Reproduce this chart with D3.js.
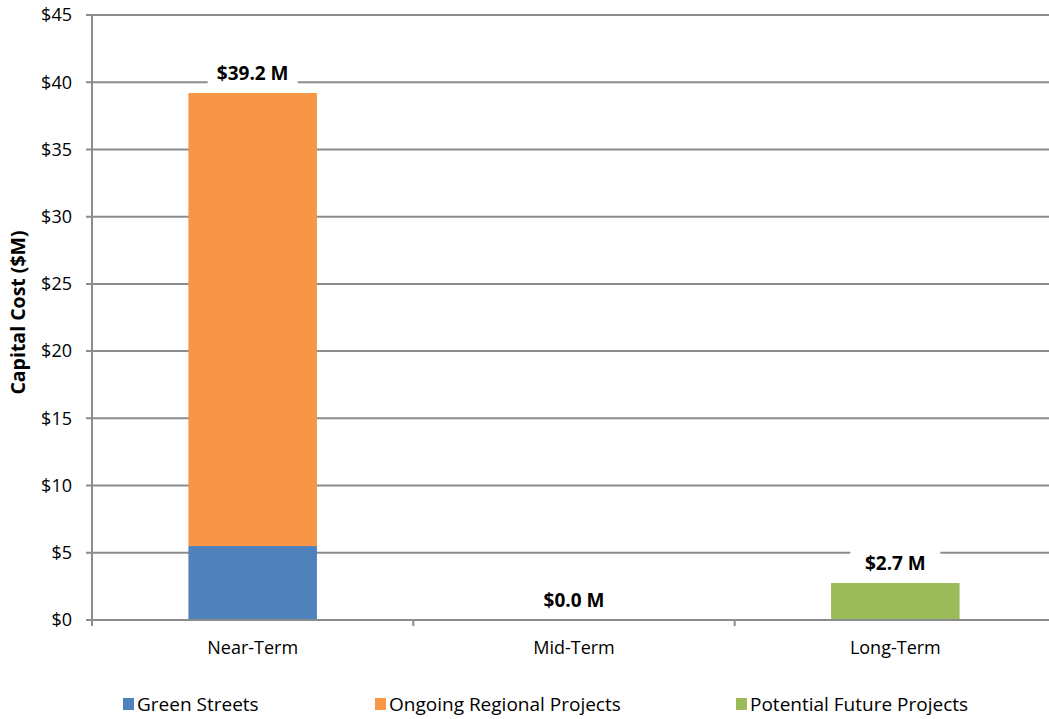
<!DOCTYPE html>
<html>
<head>
<meta charset="utf-8">
<script src="https://cdn.jsdelivr.net/npm/d3@7"></script>
<style>
  body { margin: 0; background: #fff; }
  svg { display: block; font-family: "Open Sans", "Noto Sans", sans-serif; }
</style>
</head>
<body>
<svg id="chart" width="1049" height="719"></svg>
<script>
// Capital cost by implementation phase, stacked by project type ($M)
const categories = ["Near-Term", "Mid-Term", "Long-Term"];
const seriesNames = ["Green Streets", "Ongoing Regional Projects", "Potential Future Projects"];
const greenStreets = [5.5, 0, 0];
const ongoingRegional = [33.7, 0, 0];
const potentialFuture = [0, 0, 2.75];
const totalLabels = ["$39.2 M", "$0.0 M", "$2.7 M"];
const yTicks = [0, 5, 10, 15, 20, 25, 30, 35, 40, 45];
const colors = ["#4f81bd", "#f79646", "#9bbb59"];

const svg = d3.select("#chart");
const margin = { left: 92, right: -7, top: 15, bottom: 99 };
const W = 1049, H = 719;
const x0 = margin.left, x1 = W - margin.right;
const y0 = H - margin.bottom, y1 = margin.top;

const x = d3.scaleBand().domain(categories).range([x0, x1]).paddingInner(0.6).paddingOuter(0.3);
const xBand = d3.scaleBand().domain(categories).range([x0, x1]);
const y = d3.scaleLinear().domain([0, 45]).range([y0, y1]);

const rows = categories.map((c, i) => ({
  cat: c,
  "Green Streets": greenStreets[i],
  "Ongoing Regional Projects": ongoingRegional[i],
  "Potential Future Projects": potentialFuture[i]
}));
const stacked = d3.stack().keys(seriesNames)(rows);

// gridlines
svg.append("g").selectAll("line").data(yTicks).join("line")
  .attr("x1", x0 - 6).attr("x2", x1)
  .attr("y1", d => y(d)).attr("y2", d => y(d))
  .attr("stroke", "#8c8c8c").attr("stroke-width", 2);

// y tick labels
svg.append("g").selectAll("text").data(yTicks).join("text")
  .attr("x", x0 - 20).attr("y", d => y(d)).attr("dy", "0.35em")
  .attr("text-anchor", "end").attr("font-size", 18).attr("fill", "#000")
  .text(d => "$" + d);

// bars
svg.append("g").selectAll("g").data(stacked).join("g")
  .attr("fill", (d, i) => colors[i])
  .selectAll("rect").data(d => d).join("rect")
  .attr("x", d => x(d.data.cat)).attr("width", x.bandwidth())
  .attr("y", d => y(d[1])).attr("height", d => y(d[0]) - y(d[1]));

// axes lines
svg.append("line").attr("x1", x0).attr("x2", x0).attr("y1", y1).attr("y2", y0 + 6)
  .attr("stroke", "#8c8c8c").attr("stroke-width", 2);
svg.append("line").attr("x1", x0).attr("x2", x1).attr("y1", y0).attr("y2", y0)
  .attr("stroke", "#8c8c8c").attr("stroke-width", 2);
// category tick marks
svg.append("g").selectAll("line").data(categories.slice(1)).join("line")
  .attr("x1", d => xBand(d)).attr("x2", d => xBand(d))
  .attr("y1", y0).attr("y2", y0 + 6)
  .attr("stroke", "#8c8c8c").attr("stroke-width", 2);

// category labels
svg.append("g").selectAll("text").data(categories).join("text")
  .attr("x", d => xBand(d) + xBand.bandwidth() / 2).attr("y", y0 + 28).attr("dy", "0.35em")
  .attr("text-anchor", "middle").attr("font-size", 18).attr("fill", "#000")
  .text(d => d);

// totals above each stack, on a white box
const totals = rows.map((r, i) => ({ cat: r.cat, v: greenStreets[i] + ongoingRegional[i] + potentialFuture[i], label: totalLabels[i] }));
const lab = svg.append("g").selectAll("g").data(totals).join("g")
  .attr("transform", d => `translate(${xBand(d.cat) + xBand.bandwidth() / 2},${y(d.v) - 20})`);
lab.append("rect").attr("x", -45).attr("y", -13).attr("width", 90).attr("height", 26).attr("fill", "#fff");
lab.append("text").attr("text-anchor", "middle").attr("dy", "0.35em")
  .attr("font-size", 19).attr("font-weight", "bold").attr("fill", "#000")
  .text(d => d.label);

// y axis title
svg.append("text")
  .attr("transform", `translate(18,${(y0 + y1) / 2 - 5}) rotate(-90)`)
  .attr("text-anchor", "middle").attr("dy", "0.35em").attr("font-size", 19.5).attr("font-weight", "bold")
  .text("Capital Cost ($M)");

// legend
const legendX = [123, 375, 736];
const leg = svg.append("g").selectAll("g").data(seriesNames).join("g")
  .attr("transform", (d, i) => `translate(${legendX[i]},704)`);
leg.append("rect").attr("x", 0).attr("y", -6).attr("width", 11).attr("height", 12)
  .attr("fill", (d, i) => colors[i]);
leg.append("text").attr("x", 14).attr("dy", "0.35em").attr("font-size", 19).text(d => d);
</script>
</body>
</html>
